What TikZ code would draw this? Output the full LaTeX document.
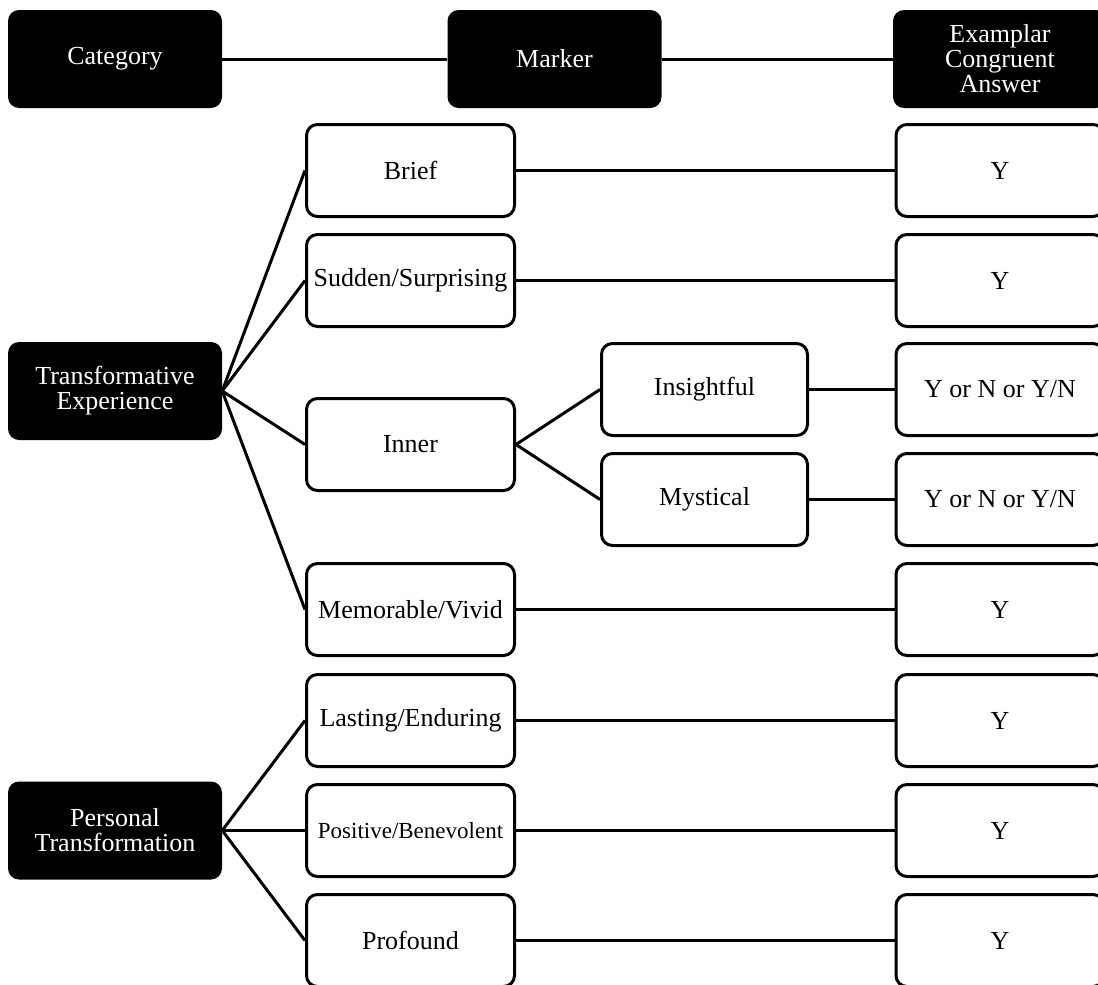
\documentclass[tikz,border=0pt]{standalone}
\usepackage{fontspec}
\setmainfont{Liberation Serif}
\begin{document}
\begin{tikzpicture}[x=1pt,y=-1pt,
  every node/.style={font=\fontsize{26}{25}\selectfont, align=center, inner sep=0pt},
  darkbox/.style={fill=black, text=white, rounded corners=11pt,
    minimum width=214pt, minimum height=98pt},
  lightbox/.style={draw=black, fill=white, line width=3pt, rounded corners=11pt,
    minimum width=208pt, minimum height=92pt},
  link/.style={draw=black, line width=3pt}
]
\useasboundingbox (0,0) rectangle (1098,985);

% header row
\node[darkbox] (cat) at (115,59) {Category};
\node[darkbox] (mark) at (554.5,59) {Marker};
\node[darkbox] (ans) at (1000,59) {Examplar\\Congruent\\Answer};

% categories
\node[darkbox] (te) at (115,391) {Transformative\\Experience};
\node[darkbox] (pt) at (115,830.5) {Personal\\Transformation};

% markers
\node[lightbox] (brief) at (410.5,170.5) {Brief};
\node[lightbox] (sudden) at (410.5,280.5) {Sudden/Surprising};
\node[lightbox] (inner) at (410.5,444.5) {Inner};
\node[lightbox] (memo) at (410.5,609.5) {Memorable/Vivid};
\node[lightbox] (last) at (410.5,720.5) {Lasting/Enduring};
\node[lightbox, font=\fontsize{23}{23}\selectfont] (pos) at (410.5,830.5) {Positive/Benevolent};
\node[lightbox] (prof) at (410.5,940.5) {Profound};

% sub-markers
\node[lightbox, minimum width=206pt] (ins) at (704.5,389.5) {Insightful};
\node[lightbox, minimum width=206pt] (mys) at (704.5,499.5) {Mystical};

% answers
\node[lightbox] (a1) at (1000,170.5) {Y};
\node[lightbox] (a2) at (1000,280.5) {Y};
\node[lightbox] (a3) at (1000,389.5) {Y or N or Y/N};
\node[lightbox] (a4) at (1000,499.5) {Y or N or Y/N};
\node[lightbox] (a5) at (1000,609.5) {Y};
\node[lightbox] (a6) at (1000,720.5) {Y};
\node[lightbox] (a7) at (1000,830.5) {Y};
\node[lightbox] (a8) at (1000,940.5) {Y};

% connectors
\path[link] (cat.east) -- (mark.west);
\path[link] (mark.east) -- (ans.west);
\foreach \m in {brief,sudden,inner,memo}
  \path[link] (te.east) -- (\m.west);
\foreach \m in {last,pos,prof}
  \path[link] (pt.east) -- (\m.west);
\path[link] (inner.east) -- (ins.west);
\path[link] (inner.east) -- (mys.west);
\path[link] (ins.east) -- (a3.west);
\path[link] (mys.east) -- (a4.west);
\path[link] (brief.east) -- (a1.west);
\path[link] (sudden.east) -- (a2.west);
\path[link] (memo.east) -- (a5.west);
\path[link] (last.east) -- (a6.west);
\path[link] (pos.east) -- (a7.west);
\path[link] (prof.east) -- (a8.west);
\end{tikzpicture}
\end{document}
